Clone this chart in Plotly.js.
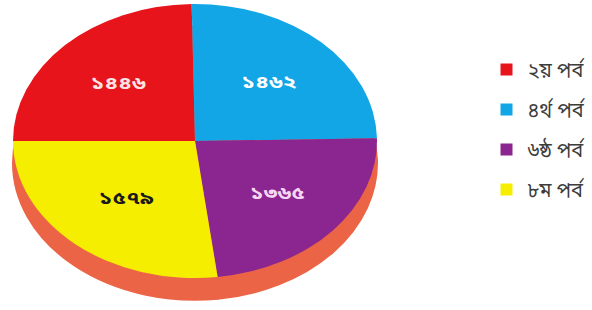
<!DOCTYPE html>
<html>
<head>
<meta charset="utf-8">
<script src="https://cdn.plot.ly/plotly-3.0.1.min.js"></script>
<style>
  html, body { margin: 0; padding: 0; background: #ffffff; }
  #chart { width: 592px; height: 310px; }
</style>
</head>
<body>
<div id="chart"></div>
<script>
// ---- data ----
const categories = ['২য় পর্ব', '৪র্থ পর্ব', '৬ষ্ঠ পর্ব', '৮ম পর্ব'];
const values = [1446, 1462, 1365, 1579];
const sliceColors = ['#e8141c', '#13a6e6', '#8b2590', '#f6ee00'];
const labelColors = ['#fbe4e4', '#ffffff', '#f6d6f4', '#1a1a1a'];
const sideColor = '#ec6446';

const bnDigits = ['০','১','২','৩','৪','৫','৬','৭','৮','৯'];
const toBn = v => String(v).replace(/[0-9]/g, d => bnDigits[+d]);
const valueLabels = values.map(toBn);

// ---- geometry (pixels) ----
const W = 592, H = 310;
const cx = 195, cy = 141;      // centre of the top face
const rx = 182, ry = 137;      // ellipse radii of the top face
const depth = 22;              // thickness of the side
const k = rx / ry;             // horizontal stretch

function dom(cxp, cyp) {
  return {
    x: [(cxp - ry) / W, (cxp + ry) / W],
    y: [(H - (cyp + ry)) / H, (H - (cyp - ry)) / H]
  };
}

const fontBn = '"Noto Sans Bengali", "Noto Sans", "DejaVu Sans", sans-serif';

const sideTrace = {
  type: 'pie',
  values: values,
  labels: categories,
  marker: { colors: values.map(() => sideColor), line: { width: 1.5, color: sideColor } },
  textinfo: 'none',
  hoverinfo: 'skip',
  showlegend: false,
  sort: false,
  direction: 'clockwise',
  rotation: -90,
  domain: dom(cx, cy + depth)
};

const topTrace = {
  type: 'pie',
  values: values,
  labels: categories,
  text: valueLabels,
  textinfo: 'text',
  textposition: 'inside',
  insidetextorientation: 'horizontal',
  textfont: { family: fontBn, size: 17, color: labelColors, weight: 'bold' },
  marker: { colors: sliceColors, line: { width: 0 } },
  hoverinfo: 'label+value',
  showlegend: false,
  sort: false,
  direction: 'clockwise',
  rotation: -90,
  domain: dom(cx, cy)
};

// legend entries (one per category, built from the same arrays)
const legendTraces = categories.map((c, i) => ({
  type: 'scatter',
  mode: 'markers',
  x: [null], y: [null],
  name: c,
  legendgroup: 'g' + i,
  marker: { symbol: 'square', size: 15, color: sliceColors[i] },
  hoverinfo: 'skip'
}));

const layout = {
  width: W, height: H,
  margin: { l: 0, r: 0, t: 0, b: 0 },
  paper_bgcolor: '#ffffff',
  plot_bgcolor: '#ffffff',
  xaxis: { visible: false, domain: [0.9, 1] },
  yaxis: { visible: false },
  showlegend: true,
  legend: {
    x: 485.5 / W, xanchor: 'left',
    y: (H - 50) / H, yanchor: 'top',
    font: { family: fontBn, size: 20, color: '#3c3c3c' },
    tracegroupgap: 11,
    itemwidth: 32,
    itemsizing: 'constant',
    bgcolor: 'rgba(0,0,0,0)'
  }
};

Plotly.newPlot('chart', [sideTrace, topTrace].concat(legendTraces), layout,
  { displayModeBar: false, staticPlot: true }).then(gd => {
  // stretch the pie layer (faces and labels) into an ellipse around the centre
  const pl = gd.querySelector('.pielayer');
  if (pl) {
    pl.setAttribute('transform',
      'translate(' + cx + ',0) scale(' + k + ',1) translate(' + (-cx) + ',0)');
  }
});
</script>
</body>
</html>
